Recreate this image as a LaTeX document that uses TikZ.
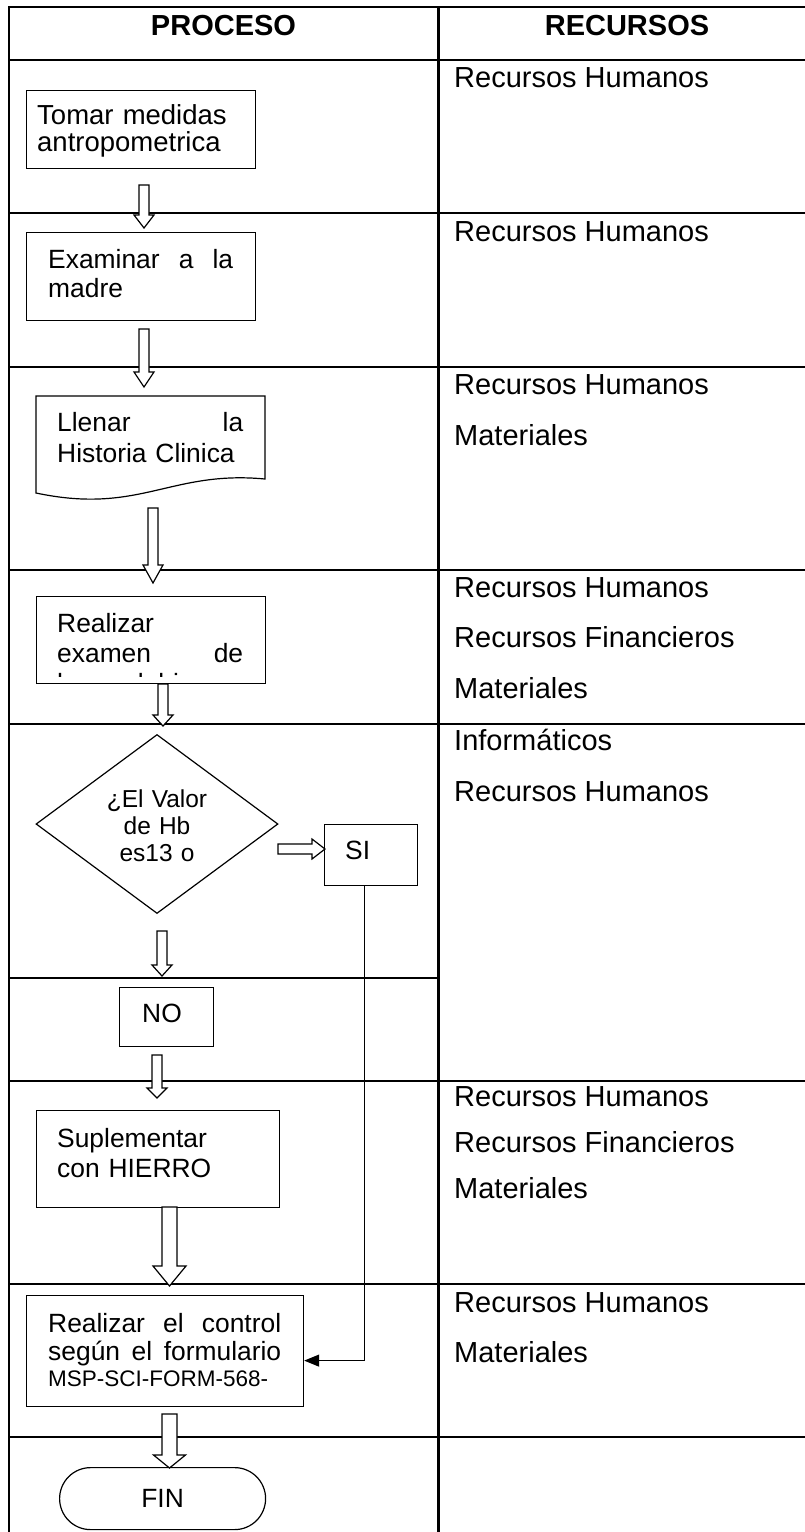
\documentclass[tikz,border=0pt]{standalone}
\usepackage{fontspec}
\setmainfont{Liberation Sans}
\usetikzlibrary{shapes.geometric,arrows.meta,calc}

\newcommand{\vblk}[6]{%
  \draw[blk] (#1-#5,#2) -- (#1+#5,#2) -- (#1+#5,#3) -- (#1+#6,#3) -- (#1,#4) -- (#1-#6,#3) -- (#1-#5,#3) -- cycle;}
\newcommand{\jline}[2]{\leavevmode\hbox to #1{#2}}

\begin{document}
\begin{tikzpicture}[x=1pt,y=-1pt,
  tbl/.style={line width=2.2pt, line cap=rect},
  box/.style={draw, line width=1.2pt, rectangle, inner sep=0pt, anchor=north west},
  blk/.style={draw, fill=white, line width=1.2pt, line join=miter},
  txt/.style={anchor=base west, inner sep=0pt, text width=#1, align=left,
              font=\fontsize{26.4}{30}\selectfont},
  txt/.default=240pt,
  rtxt/.style={anchor=base west, inner sep=0pt, font=\fontsize{29}{34}\selectfont},
  hdr/.style={anchor=base, inner sep=0pt, font=\fontsize{29}{34}\selectfont\bfseries}
]
\useasboundingbox (0,0) rectangle (805,1532);

% ---------- table ----------
\draw[tbl] (9,7) -- (805,7);
\draw[tbl] (9,7) -- (9,1540);
\draw[tbl] (438.5,7) -- (438.5,1540);
\foreach \yy in {60,213,367,570,724,1081,1284,1437}
  \draw[tbl] (9,\yy) -- (805,\yy);
\draw[tbl] (9,978) -- (438.5,978);

\node[hdr] (hproc) at (223.5,35) {PROCESO};
\node[hdr] (hrec) at (627,35) {RECURSOS};

% ---------- resources column ----------
\node[rtxt] (r1a) at (454,87) {Recursos Humanos};
\node[rtxt] (r2a) at (454,241) {Recursos Humanos};
\node[rtxt] (r3a) at (454,394) {Recursos Humanos};
\node[rtxt] (r3b) at (454,445) {Materiales};
\node[rtxt] (r4a) at (454,597) {Recursos Humanos};
\node[rtxt] (r4b) at (454,647) {Recursos Financieros};
\node[rtxt] (r4c) at (454,698) {Materiales};
\node[rtxt] (r5a) at (454,750) {Informáticos};
\node[rtxt] (r5b) at (454,801) {Recursos Humanos};
\node[rtxt] (r7a) at (454,1106) {Recursos Humanos};
\node[rtxt] (r7b) at (454,1152) {Recursos Financieros};
\node[rtxt] (r7c) at (454,1198) {Materiales};
\node[rtxt] (r8a) at (454,1312) {Recursos Humanos};
\node[rtxt] (r8b) at (454,1362) {Materiales};

% ---------- process column ----------
% Tomar medidas
\node[box, minimum width=229pt, minimum height=78pt] (tomar) at (26,90) {};
\node[txt=215pt, font=\fontsize{27.5}{27}\selectfont] (tomarT) at (37,124) {Tomar medidas\\antropometrica};

\vblk{144}{185}{215}{228}{5}{10}

% Examinar a la madre
\node[box, minimum width=229pt, minimum height=88pt] (exam) at (26,232) {};
\node[txt=205pt, font=\fontsize{26.4}{29}\selectfont] (examT) at (48,268) {\jline{185pt}{Examinar\hfill a\hfill la}\\madre};

\vblk{144}{329}{372}{387}{5}{10}

% Llenar la Historia Clinica (document shape)
\draw[line width=1.2pt] (36,396) -- (265,396) -- (265,479)
   .. controls (170,470) and (140,515) .. (36,493) -- cycle;
\node[txt=205pt, font=\fontsize{26.4}{31}\selectfont] (llenarT) at (57,431) {\jline{186pt}{Llenar\hfill la}\\Historia Clinica};

\vblk{153}{508}{565}{583}{5}{10}

% Realizar examen de hemoglobina (text clipped by the box)
\node[box, minimum width=229pt, minimum height=87pt] (realiz) at (36,596) {};
\begin{scope}
  \clip (36,596) rectangle (265,676);
  \node[txt=205pt, font=\fontsize{26.4}{30}\selectfont] (realizT) at (57,632) {Realizar\\\jline{186pt}{examen\hfill de}\\hemoglobina};
\end{scope}

\vblk{163}{684}{715}{726}{5}{10}

% Decision
\node[draw, diamond, line width=1.2pt, minimum width=242pt, minimum height=179pt, inner sep=0pt] (dec) at (157,824) {};
\node[anchor=base, inner sep=0pt, text width=130pt, align=center, font=\fontsize{24.5}{27}\selectfont] (decT) at (157,807) {¿El Valor\\de Hb\\es13 o};

% horizontal block arrow to SI
\draw[blk] (278,844) -- (312,844) -- (312,839) -- (325,849) -- (312,859) -- (312,854) -- (278,854) -- cycle;

\node[box, minimum width=93pt, minimum height=61pt] (si) at (324,824) {};
\node[txt=60pt] (siT) at (345,859) {SI};

\vblk{162}{931}{965}{976}{5}{10}

\node[box, minimum width=94pt, minimum height=59pt] (no) at (119,987) {};
\node[txt=60pt] (noT) at (142,1022) {NO};

\vblk{157}{1055}{1088}{1098}{5}{10}

% Suplementar con HIERRO
\node[box, minimum width=243pt, minimum height=97pt] (supl) at (36,1110) {};
\node[txt=215pt] (suplT) at (57,1147) {Suplementar\\con HIERRO};

\vblk{169.5}{1207}{1266}{1286}{7.5}{16.5}

% Realizar el control
\node[box, minimum width=277pt, minimum height=111pt] (ctrl) at (26,1295) {};
\node[txt=240pt, font=\fontsize{26.4}{28}\selectfont] (ctrlT) at (48,1332)
  {\jline{233pt}{Realizar\hfill el\hfill control}\\\jline{233pt}{según\hfill el\hfill formulario}\\[-2pt]{\fontsize{22.5}{26}\selectfont MSP-SCI-FORM-568-}};

% SI -> control connector
\draw[line width=1.2pt, -{Triangle[length=15pt,width=12pt]}]
  ($(si.south)+(-6.5,0)$) |- ($(ctrl.east)+(0,9.5)$);

\vblk{169.5}{1414}{1455}{1468}{7.5}{16}

% FIN
\node[draw, line width=1.2pt, rounded corners=31pt, minimum width=206pt, minimum height=62pt,
      inner sep=0pt, anchor=north west, font=\fontsize{26.4}{30}\selectfont] (fin) at (59,1467) {FIN};

\end{tikzpicture}
\end{document}
